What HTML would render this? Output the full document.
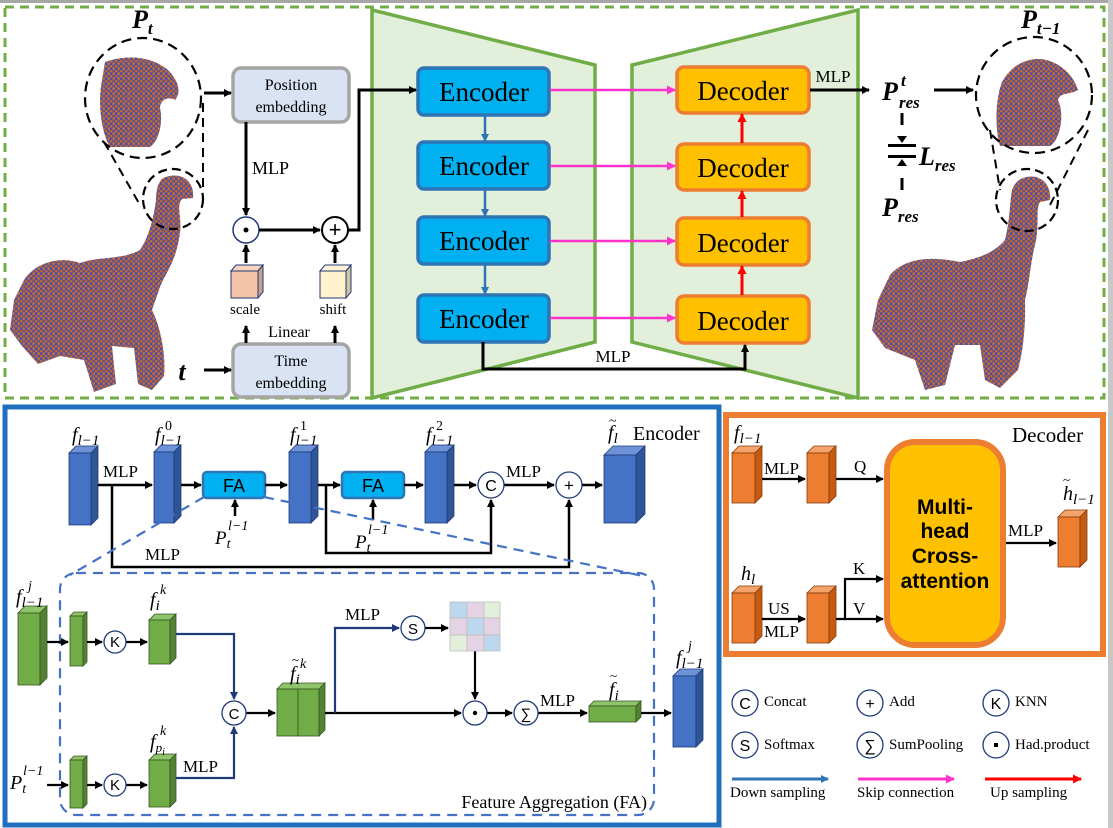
<!DOCTYPE html>
<html><head><meta charset="utf-8"><style>
html,body{margin:0;padding:0;background:#fff}
svg{display:block}
text{font-family:"Liberation Serif",serif}
text.sans,.sans text{font-family:"Liberation Sans",sans-serif}
</style></head><body>
<svg width="1113" height="828" viewBox="0 0 1113 828" xmlns="http://www.w3.org/2000/svg">
<defs>
<marker id="ak" markerWidth="8" markerHeight="8" refX="7" refY="4" orient="auto" markerUnits="userSpaceOnUse"><path d="M0,0 L8,4 L0,8 z" fill="#000"/></marker>
<marker id="ab" markerWidth="8" markerHeight="8" refX="7" refY="4" orient="auto" markerUnits="userSpaceOnUse"><path d="M0,0 L8,4 L0,8 z" fill="#2e75b6"/></marker>
<marker id="ap" markerWidth="9" markerHeight="9" refX="8" refY="4.5" orient="auto" markerUnits="userSpaceOnUse"><path d="M0,0 L9,4.5 L0,9 z" fill="#ff33cc"/></marker>
<marker id="ar" markerWidth="9" markerHeight="9" refX="8" refY="4.5" orient="auto" markerUnits="userSpaceOnUse"><path d="M0,0 L9,4.5 L0,9 z" fill="#ff0000"/></marker>
<marker id="an" markerWidth="8" markerHeight="8" refX="7" refY="4" orient="auto" markerUnits="userSpaceOnUse"><path d="M0,0 L8,4 L0,8 z" fill="#1f3a78"/></marker>
<pattern id="pc" width="5" height="5" patternUnits="userSpaceOnUse">
<rect width="5" height="5" fill="#4b4fa8"/>
<circle cx="1.2" cy="1.2" r="1.3" fill="#c8672a"/><circle cx="3.7" cy="3.6" r="1.3" fill="#d0702c"/><circle cx="3.8" cy="1" r="0.7" fill="#a55a3a"/>
</pattern>
</defs>

<rect x="0" y="0" width="1113" height="3" fill="#a6a6a6"/>
<rect x="1108" y="0" width="5" height="828" fill="#c8c8c8"/>

<rect x="5" y="7" width="1099" height="391" fill="none" stroke="#70ad47" stroke-width="3" stroke-dasharray="9,6"/>

<polygon points="372,10 595,65 595,342 372,398" fill="#e2efda" stroke="#70ad47" stroke-width="3.5"/>
<polygon points="632,65 858,10 858,398 632,342" fill="#e2efda" stroke="#70ad47" stroke-width="3.5"/>

<g fill="#00b0f0" stroke="#2e75b6" stroke-width="3.5">
<rect x="418" y="68" width="131" height="47" rx="6"/>
<rect x="418" y="142" width="131" height="47" rx="6"/>
<rect x="418" y="217" width="131" height="47" rx="6"/>
<rect x="418" y="295" width="131" height="47" rx="6"/>
</g>
<g font-size="27" text-anchor="middle">
<text x="484" y="101">Encoder</text><text x="484" y="175">Encoder</text>
<text x="484" y="250">Encoder</text><text x="484" y="328">Encoder</text>
</g>
<g stroke="#2e75b6" stroke-width="2.5" marker-end="url(#ab)">
<line x1="485" y1="115" x2="485" y2="141"/><line x1="485" y1="189" x2="485" y2="216"/><line x1="485" y1="264" x2="485" y2="294"/>
</g>

<g fill="#ffc000" stroke="#ed7d31" stroke-width="3.5">
<rect x="677" y="67" width="132" height="46" rx="7"/>
<rect x="677" y="144" width="132" height="46" rx="7"/>
<rect x="677" y="218" width="132" height="47" rx="7"/>
<rect x="677" y="296" width="132" height="47" rx="7"/>
</g>
<g font-size="27" text-anchor="middle">
<text x="743" y="100">Decoder</text><text x="743" y="177">Decoder</text>
<text x="743" y="252">Decoder</text><text x="743" y="330">Decoder</text>
</g>
<g stroke="#ff0000" stroke-width="3" marker-end="url(#ar)">
<line x1="742" y1="143" x2="742" y2="114"/><line x1="742" y1="217" x2="742" y2="191"/><line x1="742" y1="295" x2="742" y2="266"/>
</g>
<g stroke="#ff33cc" stroke-width="2.5" marker-end="url(#ap)">
<line x1="550" y1="90" x2="675" y2="90"/><line x1="550" y1="166" x2="675" y2="166"/>
<line x1="550" y1="241" x2="675" y2="241"/><line x1="550" y1="318" x2="675" y2="318"/>
</g>
<polyline points="483,342 483,369 745,369 745,345" fill="none" stroke="#000" stroke-width="3" marker-end="url(#ak)"/>
<text x="613" y="362" font-size="17" text-anchor="middle">MLP</text>

<rect x="233" y="68" width="116" height="54" rx="8" fill="#dae3f3" stroke="#a5a5a5" stroke-width="3.5"/>
<text x="291" y="90" font-size="16" text-anchor="middle">Position</text>
<text x="291" y="112" font-size="16" text-anchor="middle">embedding</text>
<rect x="233" y="344" width="116" height="53" rx="8" fill="#dae3f3" stroke="#a5a5a5" stroke-width="3.5"/>
<text x="291" y="366" font-size="16" text-anchor="middle">Time</text>
<text x="291" y="388" font-size="16" text-anchor="middle">embedding</text>

<line x1="246" y1="122" x2="246" y2="215" stroke="#000" stroke-width="3" marker-end="url(#ak)"/>
<text x="252" y="174" font-size="18">MLP</text>
<circle cx="246" cy="230" r="13" fill="#fff" stroke="#1f3a78" stroke-width="1.5"/>
<circle cx="246" cy="230" r="2.5" fill="#000"/>
<line x1="259" y1="230" x2="320" y2="230" stroke="#000" stroke-width="3" marker-end="url(#ak)"/>
<circle cx="335" cy="230" r="13" fill="#fff" stroke="#000" stroke-width="2"/>
<text x="335" y="237" font-size="22" class="sans" text-anchor="middle">+</text>
<polyline points="348,230 359,230 359,90 416,90" fill="none" stroke="#000" stroke-width="3" marker-end="url(#ak)"/>
<polygon points="231,271 236,265 263,265 258,271" fill="#f8d3bd" stroke="#1f3a78" stroke-width="1"/>
<rect x="231" y="271" width="27" height="27" fill="#f4c4a8" stroke="#1f3a78" stroke-width="1"/>
<polygon points="258,271 263,265 263,292 258,298" fill="#c9a088" stroke="#1f3a78" stroke-width="1"/>
<polygon points="320,271 325,265 351,265 346,271" fill="#fff4d6" stroke="#1f3a78" stroke-width="1"/>
<rect x="320" y="271" width="26" height="27" fill="#fff2cc" stroke="#1f3a78" stroke-width="1"/>
<polygon points="346,271 351,265 351,292 346,298" fill="#d2c4a0" stroke="#1f3a78" stroke-width="1"/>
<line x1="246" y1="263" x2="246" y2="245" stroke="#000" stroke-width="3" marker-end="url(#ak)"/>
<line x1="335" y1="263" x2="335" y2="245" stroke="#000" stroke-width="3" marker-end="url(#ak)"/>
<text x="245" y="314" font-size="15" text-anchor="middle">scale</text>
<text x="333" y="314" font-size="15" text-anchor="middle">shift</text>
<text x="289" y="337" font-size="16" text-anchor="middle">Linear</text>
<line x1="246" y1="343" x2="246" y2="326" stroke="#000" stroke-width="3" marker-end="url(#ak)"/>
<line x1="335" y1="343" x2="335" y2="326" stroke="#000" stroke-width="3" marker-end="url(#ak)"/>
<text x="182" y="380" font-size="26" font-weight="bold" font-style="italic" text-anchor="middle">t</text>
<line x1="204" y1="370" x2="231" y2="370" stroke="#000" stroke-width="3" marker-end="url(#ak)"/>

<text x="132" y="28" font-size="26" font-weight="bold" font-style="italic">P<tspan font-size="17" dy="6">t</tspan></text>
<path d="M163,178 C182,170 195,182 193,198 L182,199 C176,206 182,218 180,233 C176,262 166,272 160,287 L152,310 C162,330 166,360 164,376 L152,390 L138,384 L134,348 L112,346 L116,384 L94,392 L84,360 L60,356 L38,364 L22,346 L10,330 L14,300 L24,280 C36,262 60,256 80,263 C100,256 122,260 140,250 C150,235 154,215 156,200 C156,190 158,182 163,178 Z" fill="url(#pc)"/>
<path d="M105,62 C125,55 150,55 168,70 C178,80 182,92 175,100 C168,96 160,100 160,108 C163,120 160,140 150,147 L110,147 C100,130 98,100 102,80 Z" fill="url(#pc)"/>
<ellipse cx="143" cy="98" rx="58" ry="60" fill="none" stroke="#000" stroke-width="2.2" stroke-dasharray="10,6"/>
<circle cx="173" cy="199" r="30" fill="none" stroke="#000" stroke-width="2.2" stroke-dasharray="9,5"/>
<line x1="104" y1="142" x2="140" y2="205" stroke="#000" stroke-width="2" stroke-dasharray="9,6"/>
<line x1="203" y1="103" x2="203" y2="190" stroke="#000" stroke-width="2" stroke-dasharray="9,6"/>
<line x1="204" y1="93" x2="231" y2="93" stroke="#000" stroke-width="3" marker-end="url(#ak)"/>

<line x1="810" y1="90" x2="869" y2="90" stroke="#000" stroke-width="3" marker-end="url(#ak)"/>
<text x="833" y="82" font-size="17" text-anchor="middle">MLP</text>
<text x="882" y="100" font-size="26" font-weight="bold" font-style="italic">P</text>
<text x="901" y="86" font-size="17" font-weight="bold" font-style="italic">t</text>
<text x="899" y="108" font-size="17" font-weight="bold" font-style="italic">res</text>
<line x1="934" y1="90" x2="973" y2="90" stroke="#000" stroke-width="3" marker-end="url(#ak)"/>
<line x1="902" y1="113" x2="902" y2="125" stroke="#000" stroke-width="3"/>
<line x1="902" y1="178" x2="902" y2="190" stroke="#000" stroke-width="3"/>
<path d="M897,136 L907,136 L902,143 Z M897,166 L907,166 L902,159 Z" fill="#000"/>
<rect x="888" y="144" width="28" height="3" fill="#000"/><rect x="888" y="155" width="28" height="3" fill="#000"/>
<text x="919" y="165" font-size="26" font-weight="bold" font-style="italic">L<tspan font-size="17" dy="6">res</tspan></text>
<text x="882" y="216" font-size="26" font-weight="bold" font-style="italic">P<tspan font-size="17" dy="6">res</tspan></text>
<text x="1021" y="28" font-size="26" font-weight="bold" font-style="italic">P<tspan font-size="17" dy="6">t−1</tspan></text>
<path d="M1030,60 C1050,55 1072,70 1078,90 C1070,95 1060,92 1058,100 C1065,115 1060,140 1050,146 L1000,146 C995,130 995,100 1002,82 C1010,68 1020,62 1030,60 Z" fill="url(#pc)"/>
<ellipse cx="1034" cy="95" rx="58" ry="58" fill="none" stroke="#000" stroke-width="2.2" stroke-dasharray="10,6"/>
<path d="M1023,178 C1040,172 1052,185 1050,200 L1040,202 C1035,210 1040,225 1035,245 C1030,265 1030,280 1025,300 C1026,330 1022,355 1018,370 L1000,388 L985,380 L980,345 L955,345 L945,385 L925,390 L915,360 L885,348 L872,330 L878,300 L890,275 C905,258 930,256 960,262 C980,258 995,252 1005,240 C1010,220 1010,200 1012,190 C1014,184 1018,180 1023,178 Z" fill="url(#pc)"/>
<circle cx="1027" cy="200" r="31" fill="none" stroke="#000" stroke-width="2.2" stroke-dasharray="9,5"/>
<line x1="990" y1="130" x2="1000" y2="190" stroke="#000" stroke-width="2" stroke-dasharray="9,6"/>
<line x1="1088" y1="130" x2="1050" y2="205" stroke="#000" stroke-width="2" stroke-dasharray="9,6"/>

<rect x="5" y="407" width="714" height="418" fill="none" stroke="#1f6fbf" stroke-width="5"/>

<g stroke="#1f3a78" stroke-width="0.8">
<g><polygon points="69,453 76,446 98,446 91,453" fill="#6d92d8"/><rect x="69" y="453" width="22" height="72" fill="#4472c4"/><polygon points="91,453 98,446 98,518 91,525" fill="#2f5597"/></g>
<g><polygon points="154,452 161,445 181,445 174,452" fill="#6d92d8"/><rect x="154" y="452" width="20" height="71" fill="#4472c4"/><polygon points="174,452 181,445 181,516 174,523" fill="#2f5597"/></g>
<g><polygon points="289,452 296,445 318,445 311,452" fill="#6d92d8"/><rect x="289" y="452" width="22" height="71" fill="#4472c4"/><polygon points="311,452 318,445 318,516 311,523" fill="#2f5597"/></g>
<g><polygon points="425,452 432,445 454,445 447,452" fill="#6d92d8"/><rect x="425" y="452" width="22" height="71" fill="#4472c4"/><polygon points="447,452 454,445 454,516 447,523" fill="#2f5597"/></g>
<g><polygon points="604,455 613,446 645,446 636,455" fill="#6d92d8"/><rect x="604" y="455" width="32" height="68" fill="#4472c4"/><polygon points="636,455 645,446 645,514 636,523" fill="#2f5597"/></g>
<g><polygon points="673,676 680,669 703,669 696,676" fill="#6d92d8"/><rect x="673" y="676" width="23" height="71" fill="#4472c4"/><polygon points="696,676 703,669 703,740 696,747" fill="#2f5597"/></g>
</g>
<g font-size="20" font-style="italic">
<text x="72" y="441">f<tspan font-size="15" dy="4">l−1</tspan></text>
<text x="155" y="441">f<tspan font-size="15" dy="4">l−1</tspan></text><text x="165" y="430" font-size="14" font-style="normal">0</text>
<text x="290" y="441">f<tspan font-size="15" dy="4">l−1</tspan></text><text x="300" y="430" font-size="14" font-style="normal">1</text>
<text x="426" y="441">f<tspan font-size="15" dy="4">l−1</tspan></text><text x="436" y="430" font-size="14" font-style="normal">2</text>
<text x="608" y="439">f<tspan font-size="15" dy="4">l</tspan></text><text x="609" y="425" font-size="14" font-style="normal">~</text>
</g>
<text x="633" y="440" font-size="20">Encoder</text>
<rect x="203" y="472" width="62" height="26" rx="4" fill="#00b0f0" stroke="#2e75b6" stroke-width="2.5"/>
<text x="234" y="492" font-size="18" class="sans" text-anchor="middle">FA</text>
<rect x="342" y="472" width="62" height="26" rx="4" fill="#00b0f0" stroke="#2e75b6" stroke-width="2.5"/>
<text x="373" y="492" font-size="18" class="sans" text-anchor="middle">FA</text>
<g stroke="#000" stroke-width="2.5" fill="none" marker-end="url(#ak)">
<line x1="98" y1="485" x2="152" y2="485"/>
<line x1="181" y1="485" x2="201" y2="485"/>
<line x1="265" y1="485" x2="287" y2="485"/>
<line x1="318" y1="485" x2="340" y2="485"/>
<line x1="404" y1="485" x2="423" y2="485"/>
<line x1="454" y1="485" x2="476" y2="485"/>
<line x1="504" y1="485" x2="554" y2="485"/>
<line x1="582" y1="485" x2="602" y2="485"/>
<line x1="235" y1="516" x2="235" y2="500"/>
<line x1="373" y1="520" x2="373" y2="500"/>
<polyline points="326,485 326,553 491,553 491,500"/>
<polyline points="112,485 112,567 569,567 569,500"/>
</g>
<text x="103" y="477" font-size="17">MLP</text>
<text x="506" y="477" font-size="17">MLP</text>
<text x="145" y="560" font-size="17">MLP</text>
<circle cx="491" cy="485" r="13" fill="#fff" stroke="#1f3a78" stroke-width="1.3"/>
<text x="491" y="491" font-size="16" class="sans" text-anchor="middle">C</text>
<circle cx="569" cy="485" r="13" fill="#fff" stroke="#1f3a78" stroke-width="1.3"/>
<text x="569" y="491" font-size="17" class="sans" text-anchor="middle">+</text>
<g font-size="19" font-style="italic">
<text x="215" y="544">P<tspan font-size="14" dy="4">t</tspan></text><text x="228" y="530" font-size="14">l−1</text>
<text x="355" y="548">P<tspan font-size="14" dy="4">t</tspan></text><text x="368" y="534" font-size="14">l−1</text>
</g>
<g stroke="#4472c4" stroke-width="2.2" stroke-dasharray="10,7" fill="none">
<line x1="204" y1="497" x2="70" y2="575"/>
<line x1="264" y1="497" x2="643" y2="576"/>
<rect x="60" y="573" width="594" height="242" rx="16"/>
</g>
<text x="647" y="808" font-size="18" text-anchor="end">Feature Aggregation (FA)</text>

<g stroke="#375623" stroke-width="0.8">
<g><polygon points="18,613 25,606 47,606 40,613" fill="#8fc46a"/><rect x="18" y="613" width="22" height="72" fill="#70ad47"/><polygon points="40,613 47,606 47,678 40,685" fill="#548235"/></g>
<g><polygon points="70,616 74,612 87,612 83,616" fill="#8fc46a"/><rect x="70" y="616" width="13" height="50" fill="#70ad47"/><polygon points="83,616 87,612 87,662 83,666" fill="#548235"/></g>
<g><polygon points="149,620 155,614 176,614 170,620" fill="#8fc46a"/><rect x="149" y="620" width="21" height="44" fill="#70ad47"/><polygon points="170,620 176,614 176,658 170,664" fill="#548235"/></g>
<g><polygon points="70,760 74,756 87,756 83,760" fill="#8fc46a"/><rect x="70" y="760" width="13" height="48" fill="#70ad47"/><polygon points="83,760 87,756 87,804 83,808" fill="#548235"/></g>
<g><polygon points="149,760 155,754 176,754 170,760" fill="#8fc46a"/><rect x="149" y="760" width="21" height="47" fill="#70ad47"/><polygon points="170,760 176,754 176,801 170,807" fill="#548235"/></g>
<g><polygon points="277,689 283,683 325,683 319,689" fill="#8fc46a"/><rect x="277" y="689" width="21" height="47" fill="#70ad47"/><rect x="298" y="689" width="21" height="47" fill="#70ad47"/><polygon points="319,689 325,683 325,730 319,736" fill="#548235"/></g>
<g><polygon points="589,706 594,701 641,701 636,706" fill="#8fc46a"/><rect x="589" y="706" width="47" height="16" fill="#70ad47"/><polygon points="636,706 641,701 641,717 636,722" fill="#548235"/></g>
</g>
<g font-size="20" font-style="italic">
<text x="16" y="603">f<tspan font-size="15" dy="4">l−1</tspan></text><text x="28" y="590" font-size="14">j</text>
<text x="150" y="606">f<tspan font-size="15" dy="4">i</tspan></text><text x="160" y="594" font-size="14">k</text>
<text x="150" y="748">f<tspan font-size="13" dy="4">p</tspan><tspan font-size="10" dy="3">i</tspan></text><text x="160" y="735" font-size="14">k</text>
<text x="290" y="680">f<tspan font-size="15" dy="4">i</tspan></text><text x="292" y="664" font-size="13" font-style="normal">~</text><text x="300" y="668" font-size="14">k</text>
<text x="609" y="696">f<tspan font-size="15" dy="4">i</tspan></text><text x="610" y="680" font-size="13" font-style="normal">~</text>
<text x="676" y="664">f<tspan font-size="15" dy="4">l−1</tspan></text><text x="688" y="650" font-size="14">j</text>
<text x="10" y="789">P<tspan font-size="14" dy="4">t</tspan></text><text x="23" y="775" font-size="14">l−1</text>
</g>
<g stroke="#000" stroke-width="2.2" fill="none" marker-end="url(#ak)">
<line x1="47" y1="642" x2="68" y2="642"/>
<line x1="87" y1="642" x2="102" y2="642"/>
<line x1="126" y1="642" x2="147" y2="642"/>
<line x1="47" y1="785" x2="68" y2="785"/>
<line x1="87" y1="785" x2="102" y2="785"/>
<line x1="126" y1="785" x2="147" y2="785"/>
<line x1="246" y1="713" x2="275" y2="713"/>
<line x1="325" y1="713" x2="461" y2="713"/>
<line x1="487" y1="713" x2="512" y2="713"/>
<line x1="538" y1="713" x2="587" y2="713"/>
<line x1="641" y1="713" x2="671" y2="713"/>
<line x1="425" y1="628" x2="448" y2="628"/>
<line x1="475" y1="651" x2="475" y2="699"/>
</g>
<g stroke="#1f3a78" stroke-width="2.2" fill="none" marker-end="url(#an)">
<polyline points="176,634 234,634 234,699"/>
<polyline points="176,778 234,778 234,727"/>
<polyline points="335,713 335,628 399,628"/>
</g>
<text x="345" y="620" font-size="17">MLP</text>
<text x="183" y="772" font-size="17">MLP</text>
<text x="540" y="706" font-size="17">MLP</text>
<g fill="#fff" stroke="#1f3a78" stroke-width="1.3">
<circle cx="115" cy="642" r="11"/><circle cx="115" cy="785" r="11"/>
<circle cx="234" cy="713" r="12"/><circle cx="413" cy="628" r="12"/>
<circle cx="475" cy="713" r="12"/><circle cx="526" cy="713" r="12"/>
</g>
<g font-size="15" class="sans" text-anchor="middle">
<text x="115" y="647">K</text><text x="115" y="790">K</text><text x="234" y="719">C</text><text x="413" y="634">S</text><text x="526" y="719">∑</text>
</g>
<circle cx="475" cy="713" r="2.2" fill="#000"/>
<g stroke="#bfbfbf" stroke-width="0.8">
<rect x="450" y="602" width="17" height="16" fill="#bdd7ee"/><rect x="467" y="602" width="17" height="16" fill="#e4d3e4"/><rect x="484" y="602" width="16" height="16" fill="#e2efda"/>
<rect x="450" y="618" width="17" height="17" fill="#e4d3e4"/><rect x="467" y="618" width="17" height="17" fill="#bdd7ee"/><rect x="484" y="618" width="16" height="17" fill="#e4d3e4"/>
<rect x="450" y="635" width="17" height="16" fill="#e2efda"/><rect x="467" y="635" width="17" height="16" fill="#e4d3e4"/><rect x="484" y="635" width="16" height="16" fill="#bdd7ee"/>
</g>

<rect x="726" y="415" width="377" height="239" fill="none" stroke="#ed7d31" stroke-width="6"/>
<g stroke="#843c0c" stroke-width="0.8">
<g><polygon points="732,453 739,446 762,446 755,453" fill="#f4a46a"/><rect x="732" y="453" width="23" height="50" fill="#ed7d31"/><polygon points="755,453 762,446 762,496 755,503" fill="#c55a11"/></g>
<g><polygon points="807,453 814,446 836,446 829,453" fill="#f4a46a"/><rect x="807" y="453" width="22" height="50" fill="#ed7d31"/><polygon points="829,453 836,446 836,496 829,503" fill="#c55a11"/></g>
<g><polygon points="732,593 739,586 762,586 755,593" fill="#f4a46a"/><rect x="732" y="593" width="23" height="50" fill="#ed7d31"/><polygon points="755,593 762,586 762,636 755,643" fill="#c55a11"/></g>
<g><polygon points="807,593 814,586 836,586 829,593" fill="#f4a46a"/><rect x="807" y="593" width="22" height="50" fill="#ed7d31"/><polygon points="829,593 836,586 836,636 829,643" fill="#c55a11"/></g>
<g><polygon points="1058,517 1065,510 1087,510 1080,517" fill="#f4a46a"/><rect x="1058" y="517" width="22" height="50" fill="#ed7d31"/><polygon points="1080,517 1087,510 1087,560 1080,567" fill="#c55a11"/></g>
</g>
<text x="1012" y="442" font-size="21">Decoder</text>
<g font-size="20" font-style="italic">
<text x="734" y="439">f<tspan font-size="15" dy="4">l−1</tspan></text>
<text x="741" y="580">h<tspan font-size="15" dy="4">l</tspan></text>
<text x="1063" y="500">h<tspan font-size="15" dy="4">l−1</tspan></text><text x="1063" y="484" font-size="13" font-style="normal">~</text>
</g>
<rect x="887" y="442" width="116" height="203" rx="28" fill="#ffc000" stroke="#ed7d31" stroke-width="6"/>
<g font-size="21" font-weight="bold" class="sans" text-anchor="middle">
<text x="945" y="514">Multi-</text><text x="945" y="538">head</text><text x="945" y="563">Cross-</text><text x="945" y="588">attention</text>
</g>
<g stroke="#000" stroke-width="2.2" fill="none" marker-end="url(#ak)">
<line x1="762" y1="479" x2="805" y2="479"/>
<line x1="836" y1="479" x2="883" y2="479"/>
<line x1="762" y1="619" x2="805" y2="619"/>
<line x1="836" y1="619" x2="883" y2="619"/>
<polyline points="845,619 845,579 883,579"/>
<line x1="1006" y1="543" x2="1056" y2="543"/>
</g>
<text x="764" y="474" font-size="17">MLP</text>
<text x="854" y="472" font-size="17">Q</text>
<text x="768" y="614" font-size="17">US</text>
<text x="764" y="637" font-size="17">MLP</text>
<text x="853" y="574" font-size="17">K</text>
<text x="853" y="614" font-size="17">V</text>
<text x="1008" y="536" font-size="17">MLP</text>

<g fill="#fff" stroke="#1f3a78" stroke-width="1.3">
<circle cx="745" cy="703" r="13"/><circle cx="870" cy="703" r="13"/><circle cx="996" cy="703" r="13"/>
<circle cx="745" cy="745" r="13"/><circle cx="870" cy="745" r="13"/><circle cx="996" cy="745" r="13"/>
</g>
<g font-size="16" class="sans" text-anchor="middle">
<text x="745" y="709">C</text><text x="870" y="709">+</text><text x="996" y="709">K</text>
<text x="745" y="751">S</text><text x="870" y="751">∑</text>
</g>
<rect x="994" y="743" width="4" height="4" fill="#000"/>
<g font-size="15">
<text x="764" y="706">Concat</text><text x="889" y="706">Add</text><text x="1015" y="706">KNN</text>
<text x="764" y="749">Softmax</text><text x="889" y="749">SumPooling</text><text x="1015" y="749">Had.product</text>
<text x="730" y="797">Down sampling</text><text x="857" y="797">Skip connection</text><text x="990" y="797">Up sampling</text>
</g>
<line x1="732" y1="779" x2="828" y2="779" stroke="#2e75b6" stroke-width="3" marker-end="url(#ab)"/>
<line x1="858" y1="779" x2="954" y2="779" stroke="#ff33cc" stroke-width="3" marker-end="url(#ap)"/>
<line x1="985" y1="779" x2="1081" y2="779" stroke="#ff0000" stroke-width="3" marker-end="url(#ar)"/>
</svg>
</body></html>
